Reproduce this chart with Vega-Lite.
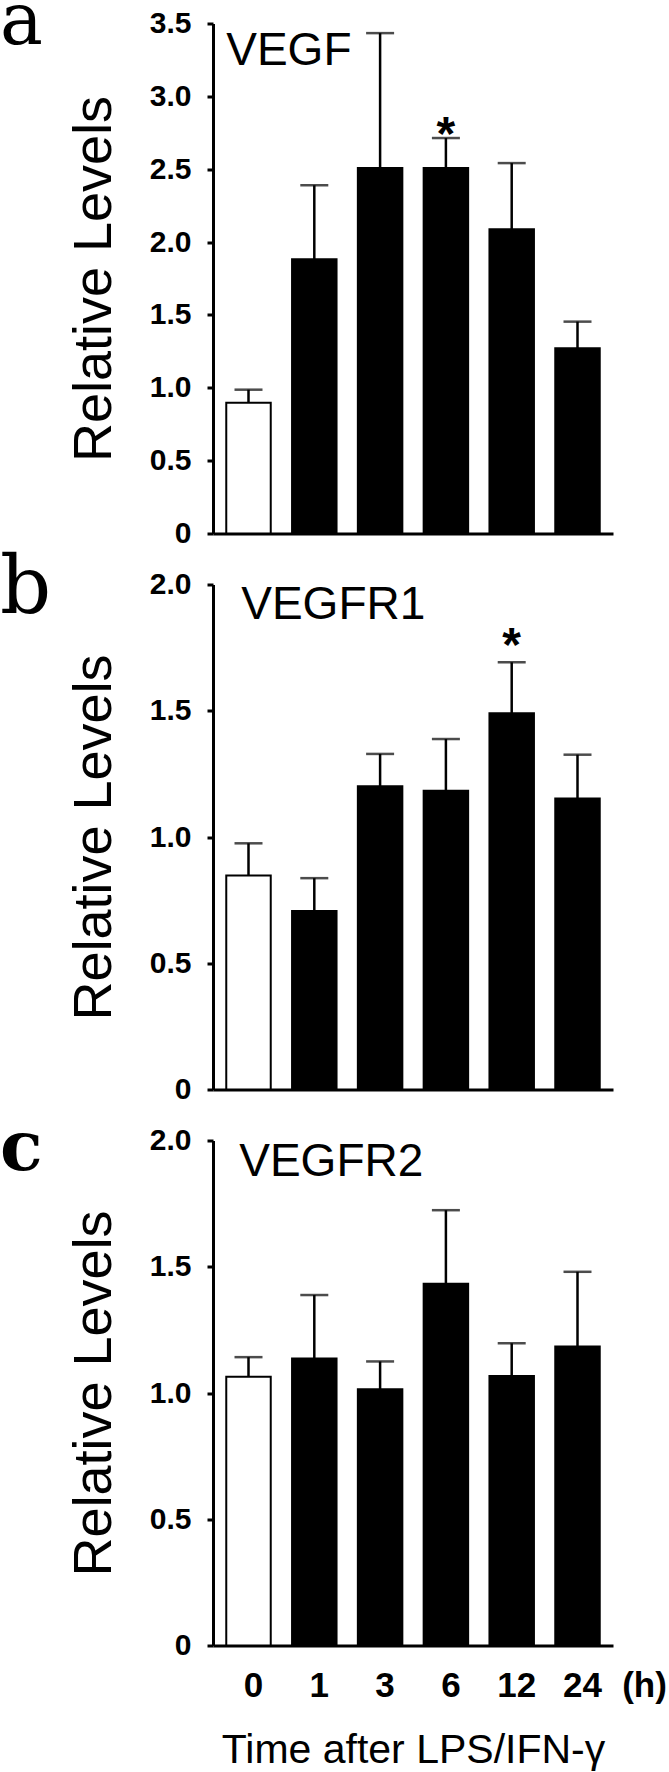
{
  "$schema": "https://vega.github.io/schema/vega-lite/v6.json",
  "background": "white",
  "padding": {"left": 0, "top": -14.5, "right": 0, "bottom": 0},
  "spacing": 51,
  "bounds": "flush",
  "data": {"values": [
    {"panel": "a", "time": "0", "mean": 0.897, "upper": 0.987, "star": "", "star_y": null},
    {"panel": "a", "time": "1", "mean": 1.882, "upper": 2.39, "star": "", "star_y": null},
    {"panel": "a", "time": "3", "mean": 2.508, "upper": 3.434, "star": "", "star_y": null},
    {"panel": "a", "time": "6", "mean": 2.508, "upper": 2.714, "star": "*", "star_y": 2.788},
    {"panel": "a", "time": "12", "mean": 2.088, "upper": 2.542, "star": "", "star_y": null},
    {"panel": "a", "time": "24", "mean": 1.272, "upper": 1.454, "star": "", "star_y": null},
    {"panel": "b", "time": "0", "mean": 0.848, "upper": 0.975, "star": "", "star_y": null},
    {"panel": "b", "time": "1", "mean": 0.707, "upper": 0.837, "star": "", "star_y": null},
    {"panel": "b", "time": "3", "mean": 1.201, "upper": 1.329, "star": "", "star_y": null},
    {"panel": "b", "time": "6", "mean": 1.183, "upper": 1.388, "star": "", "star_y": null},
    {"panel": "b", "time": "12", "mean": 1.49, "upper": 1.692, "star": "*", "star_y": 1.784},
    {"panel": "b", "time": "24", "mean": 1.152, "upper": 1.326, "star": "", "star_y": null},
    {"panel": "c", "time": "0", "mean": 1.064, "upper": 1.142, "star": "", "star_y": null},
    {"panel": "c", "time": "1", "mean": 1.137, "upper": 1.388, "star": "", "star_y": null},
    {"panel": "c", "time": "3", "mean": 1.015, "upper": 1.125, "star": "", "star_y": null},
    {"panel": "c", "time": "6", "mean": 1.433, "upper": 1.724, "star": "", "star_y": null},
    {"panel": "c", "time": "12", "mean": 1.067, "upper": 1.197, "star": "", "star_y": null},
    {"panel": "c", "time": "24", "mean": 1.184, "upper": 1.48, "star": "", "star_y": null}
  ]},
  "config": {
    "view": {"stroke": null},
    "font": "Liberation Sans",
    "axis": {
      "grid": false,
      "domainColor": "black",
      "domainWidth": 3,
      "tickColor": "black",
      "tickWidth": 3,
      "labelColor": "black",
      "titleColor": "black",
      "labelFont": "Liberation Sans",
      "labelFontWeight": "bold",
      "titleFont": "Liberation Sans",
      "titleFontWeight": "normal"
    },
    "axisY": {
      "tickSize": 6,
      "labelFontSize": 30,
      "labelPadding": 16,
      "titleFontSize": 54,
      "titlePadding": 28,
      "labelExpr": "datum.value === 0 ? '0' : format(datum.value, '.1f')"
    },
    "axisX": {
      "ticks": false,
      "tickSize": 0,
      "labelFontSize": 35,
      "labelPadding": 23,
      "labelOffset": 5,
      "labelAngle": 0,
      "titleFontSize": 41,
      "titlePadding": 27
    },
    "title": {
      "anchor": "start",
      "frame": "group",
      "orient": "top",
      "font": "DejaVu Serif",
      "color": "black",
      "baseline": "alphabetic",
      "dx": -213
    }
  },
  "vconcat": [
    {
      "width": 400,
      "height": 510,
      "title": {"text": "a", "fontSize": 72, "fontWeight": "normal", "offset": -50},
      "transform": [{"filter": "datum.panel === 'a'"}],
      "encoding": {
        "x": {"field": "time", "type": "nominal",
          "scale": {"domain": ["0", "1", "3", "6", "12", "24"], "paddingInner": 0.324, "paddingOuter": 0.2015},
          "axis": {"title": null, "labels": false, "ticks": false}}
      },
      "layer": [
        {"mark": {"type": "bar", "stroke": "black", "strokeWidth": 2},
         "encoding": {
           "y": {"field": "mean", "type": "quantitative", "scale": {"domain": [0, 3.5]},
             "axis": {"values": [0, 0.5, 1, 1.5, 2, 2.5, 3, 3.5], "title": "Relative Levels"}},
           "fill": {"condition": {"test": "datum.time === '0'", "value": "white"}, "value": "black"}}},
        {"mark": {"type": "rule", "strokeWidth": 2.5, "color": "black"},
         "encoding": {"y": {"field": "mean", "type": "quantitative"}, "y2": {"field": "upper"}}},
        {"mark": {"type": "tick", "thickness": 2.5, "size": 28, "color": "black"},
         "encoding": {"y": {"field": "upper", "type": "quantitative"}}},
        {"mark": {"type": "text", "font": "Liberation Sans", "fontSize": 48, "fontWeight": "bold", "baseline": "middle", "dy": 9, "color": "black"},
         "encoding": {"y": {"field": "star_y", "type": "quantitative"}, "text": {"field": "star"}}},
        {"data": {"values": [{"panel": "a", "label": "VEGF"}]},
         "mark": {"type": "text", "font": "Liberation Sans", "fontSize": 46, "align": "left", "baseline": "top", "dx": 0, "dy": 5, "color": "black"},
         "encoding": {"x": {"datum": "0", "bandPosition": 0}, "y": {"datum": 3.5}, "text": {"field": "label"}}}
      ]
    },
    {
      "width": 400,
      "height": 505,
      "title": {"text": "b", "fontSize": 80, "fontWeight": "normal", "offset": -60},
      "transform": [{"filter": "datum.panel === 'b'"}],
      "encoding": {
        "x": {"field": "time", "type": "nominal",
          "scale": {"domain": ["0", "1", "3", "6", "12", "24"], "paddingInner": 0.324, "paddingOuter": 0.2015},
          "axis": {"title": null, "labels": false, "ticks": false}}
      },
      "layer": [
        {"mark": {"type": "bar", "stroke": "black", "strokeWidth": 2},
         "encoding": {
           "y": {"field": "mean", "type": "quantitative", "scale": {"domain": [0, 2]},
             "axis": {"values": [0, 0.5, 1, 1.5, 2], "title": "Relative Levels"}},
           "fill": {"condition": {"test": "datum.time === '0'", "value": "white"}, "value": "black"}}},
        {"mark": {"type": "rule", "strokeWidth": 2.5, "color": "black"},
         "encoding": {"y": {"field": "mean", "type": "quantitative"}, "y2": {"field": "upper"}}},
        {"mark": {"type": "tick", "thickness": 2.5, "size": 28, "color": "black"},
         "encoding": {"y": {"field": "upper", "type": "quantitative"}}},
        {"mark": {"type": "text", "font": "Liberation Sans", "fontSize": 48, "fontWeight": "bold", "baseline": "middle", "dy": 8, "color": "black"},
         "encoding": {"y": {"field": "star_y", "type": "quantitative"}, "text": {"field": "star"}}},
        {"data": {"values": [{"panel": "b", "label": "VEGFR1"}]},
         "mark": {"type": "text", "font": "Liberation Sans", "fontSize": 46, "align": "left", "baseline": "top", "dx": 15, "dy": -2, "color": "black"},
         "encoding": {"x": {"datum": "0", "bandPosition": 0}, "y": {"datum": 2}, "text": {"field": "label"}}}
      ]
    },
    {
      "width": 400,
      "height": 505,
      "title": {"text": "c", "fontSize": 70, "fontWeight": "bold", "offset": -59},
      "transform": [{"filter": "datum.panel === 'c'"}],
      "encoding": {
        "x": {"field": "time", "type": "nominal",
          "scale": {"domain": ["0", "1", "3", "6", "12", "24"], "paddingInner": 0.324, "paddingOuter": 0.2015},
          "axis": {"title": "Time after LPS/IFN-γ"}}
      },
      "layer": [
        {"mark": {"type": "bar", "stroke": "black", "strokeWidth": 2},
         "encoding": {
           "y": {"field": "mean", "type": "quantitative", "scale": {"domain": [0, 2]},
             "axis": {"values": [0, 0.5, 1, 1.5, 2], "title": "Relative Levels"}},
           "fill": {"condition": {"test": "datum.time === '0'", "value": "white"}, "value": "black"}}},
        {"mark": {"type": "rule", "strokeWidth": 2.5, "color": "black"},
         "encoding": {"y": {"field": "mean", "type": "quantitative"}, "y2": {"field": "upper"}}},
        {"mark": {"type": "tick", "thickness": 2.5, "size": 28, "color": "black"},
         "encoding": {"y": {"field": "upper", "type": "quantitative"}}},
        {"data": {"values": [{"panel": "c", "label": "VEGFR2"}]},
         "mark": {"type": "text", "font": "Liberation Sans", "fontSize": 46, "align": "left", "baseline": "top", "dx": 13, "dy": -1, "color": "black"},
         "encoding": {"x": {"datum": "0", "bandPosition": 0}, "y": {"datum": 2}, "text": {"field": "label"}}},
        {"data": {"values": [{"panel": "c", "label": "(h)"}]},
         "mark": {"type": "text", "font": "Liberation Sans", "fontSize": 35, "fontWeight": "bold", "align": "center", "baseline": "top", "dx": 67, "dy": 23, "color": "black"},
         "encoding": {"x": {"datum": "24"}, "y": {"datum": 0}, "text": {"field": "label"}}}
      ]
    }
  ]
}
